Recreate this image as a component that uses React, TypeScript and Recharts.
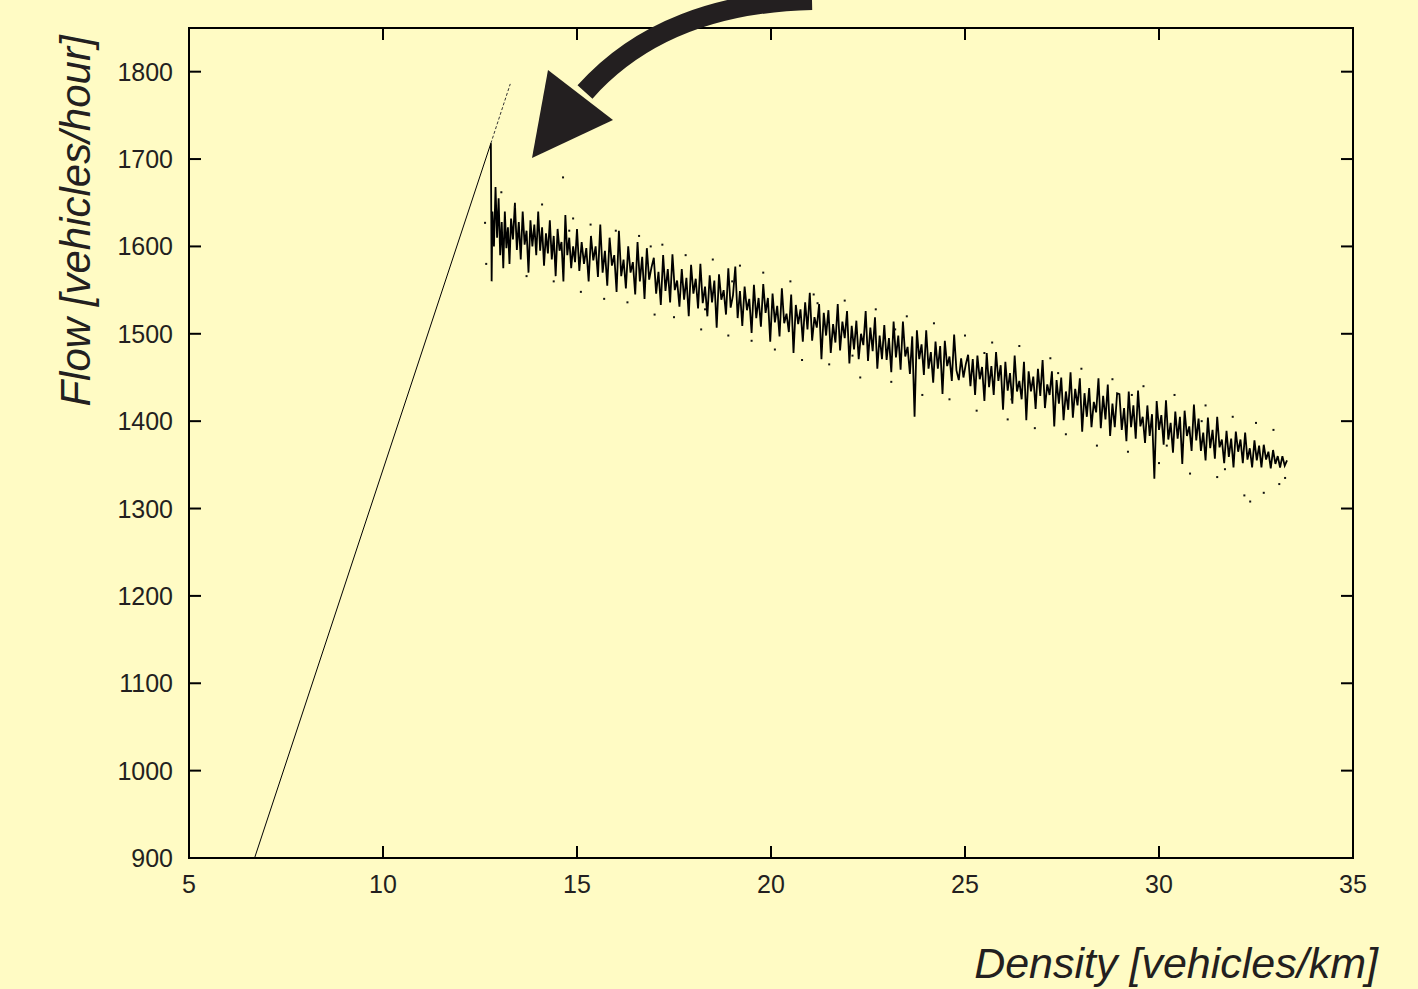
import { ComposedChart, Line, Scatter, XAxis, YAxis, ReferenceArea } from 'recharts'

// plot frame in page pixels (chart sits at 0,0)
const LEFT = 189
const RIGHT = 1353
const TOP = 28
const BOTTOM = 858
const INK = '#231f20'
const FONT = '"Liberation Sans", Arial, Helvetica, sans-serif'

const densityTicks = [5, 10, 15, 20, 25, 30, 35]
const flowTicks = [900, 1000, 1100, 1200, 1300, 1400, 1500, 1600, 1700, 1800]

// free-flow branch [density, flow]
const freeFlow: number[][] = [[6.69, 900], [12.78, 1718]]
const freeFlowTail: number[][] = [[12.78, 1718], [13.28, 1786]]

// congested branch [density, flow]
const congested: number[][] = [
  [12.78, 1718], [12.8, 1560], [12.82, 1640], [12.86, 1600], [12.9, 1668], [12.94, 1610], [12.98, 1655], [13.02, 1590],
  [13.06, 1628], [13.1, 1575], [13.14, 1640], [13.18, 1598], [13.22, 1622], [13.26, 1580], [13.3, 1632], [13.35, 1608],
  [13.4, 1650], [13.45, 1596], [13.5, 1628], [13.55, 1585], [13.6, 1640], [13.65, 1602], [13.7, 1618], [13.75, 1570],
  [13.8, 1630], [13.85, 1600], [13.9, 1625], [13.95, 1590], [14.0, 1640], [14.05, 1595], [14.1, 1622], [14.15, 1578],
  [14.2, 1615], [14.25, 1592], [14.3, 1630], [14.35, 1585], [14.4, 1612], [14.45, 1566], [14.5, 1620], [14.55, 1595],
  [14.6, 1605], [14.65, 1560], [14.7, 1636], [14.75, 1590], [14.8, 1610], [14.85, 1575], [14.9, 1600], [14.95, 1582],
  [15.0, 1620], [15.06, 1572], [15.12, 1605], [15.18, 1580], [15.24, 1598], [15.3, 1560], [15.36, 1612], [15.42, 1584],
  [15.48, 1600], [15.54, 1565], [15.6, 1625], [15.66, 1570], [15.72, 1595], [15.78, 1555], [15.84, 1610], [15.9, 1578],
  [15.96, 1590], [16.02, 1548], [16.08, 1618], [16.14, 1566], [16.2, 1585], [16.26, 1552], [16.32, 1600], [16.38, 1570],
  [16.44, 1582], [16.5, 1545], [16.56, 1605], [16.62, 1560], [16.68, 1588], [16.74, 1540], [16.8, 1598], [16.86, 1562],
  [16.92, 1576],
  [16.98, 1587], [17.04, 1546], [17.1, 1571], [17.16, 1533], [17.22, 1590], [17.28, 1549], [17.34, 1574], [17.4, 1536],
  [17.46, 1591], [17.52, 1550], [17.58, 1561], [17.64, 1531], [17.7, 1574], [17.76, 1539], [17.82, 1564], [17.88, 1520],
  [17.94, 1579], [18.0, 1546], [18.06, 1563], [18.12, 1529], [18.18, 1580], [18.24, 1535], [18.3, 1554], [18.36, 1520],
  [18.42, 1567], [18.48, 1536], [18.54, 1561], [18.6, 1507], [18.66, 1568], [18.72, 1539], [18.78, 1550], [18.84, 1522],
  [18.9, 1575], [18.96, 1530],
  [19.02, 1544], [19.08, 1577], [19.14, 1518], [19.2, 1549], [19.26, 1509], [19.32, 1554], [19.38, 1527], [19.44, 1540],
  [19.5, 1501], [19.56, 1556], [19.62, 1518], [19.68, 1541], [19.74, 1508], [19.8, 1557], [19.86, 1524], [19.92, 1541],
  [19.98, 1491], [20.04, 1546], [20.1, 1513], [20.16, 1532], [20.22, 1497], [20.28, 1552], [20.34, 1512], [20.4, 1523],
  [20.46, 1502], [20.52, 1545], [20.58, 1478], [20.64, 1533], [20.7, 1511], [20.76, 1528], [20.82, 1491], [20.88, 1536],
  [20.94, 1505],
  [21.0, 1547], [21.06, 1492], [21.12, 1519], [21.18, 1507], [21.24, 1534], [21.3, 1471], [21.36, 1524], [21.42, 1498],
  [21.48, 1527], [21.54, 1478], [21.6, 1511], [21.66, 1490], [21.72, 1534], [21.78, 1481], [21.84, 1514], [21.9, 1495],
  [21.96, 1526], [22.02, 1466], [22.08, 1509], [22.14, 1482], [22.2, 1515], [22.26, 1471], [22.32, 1500], [22.38, 1487],
  [22.44, 1526], [22.5, 1469], [22.56, 1507], [22.62, 1480], [22.68, 1519], [22.74, 1460], [22.8, 1498], [22.86, 1471],
  [22.92, 1510],
  [22.98, 1470], [23.04, 1495], [23.1, 1456], [23.16, 1514], [23.22, 1473], [23.28, 1498], [23.34, 1459], [23.4, 1514],
  [23.46, 1474], [23.52, 1485], [23.58, 1454], [23.64, 1497], [23.7, 1405], [23.76, 1504], [23.82, 1471], [23.88, 1488],
  [23.94, 1453], [24.0, 1504], [24.06, 1460], [24.12, 1479], [24.18, 1444], [24.24, 1491], [24.3, 1460], [24.36, 1486],
  [24.42, 1431], [24.48, 1492], [24.54, 1463], [24.6, 1474], [24.66, 1446], [24.72, 1499], [24.78, 1458], [24.84, 1447],
  [24.9, 1472], [24.96, 1450],
  [25.02, 1465], [25.08, 1476], [25.14, 1440], [25.2, 1471], [25.26, 1430], [25.32, 1475], [25.38, 1448], [25.44, 1462],
  [25.5, 1423], [25.56, 1478], [25.62, 1439], [25.68, 1463], [25.74, 1430], [25.8, 1479], [25.86, 1446], [25.92, 1464],
  [25.98, 1413], [26.04, 1468], [26.1, 1435], [26.16, 1455], [26.22, 1420], [26.28, 1475], [26.34, 1434], [26.4, 1446],
  [26.46, 1425], [26.52, 1468], [26.58, 1401], [26.64, 1457], [26.7, 1434], [26.76, 1451], [26.82, 1414], [26.88, 1460],
  [26.94, 1429],
  [27.0, 1470], [27.06, 1415], [27.12, 1442], [27.18, 1430], [27.24, 1457], [27.3, 1394], [27.36, 1447], [27.42, 1420],
  [27.48, 1450], [27.54, 1401], [27.6, 1434], [27.66, 1413], [27.72, 1456], [27.78, 1404], [27.84, 1437], [27.9, 1418],
  [27.96, 1449], [28.02, 1388], [28.08, 1432], [28.14, 1405], [28.2, 1438], [28.26, 1393], [28.32, 1422], [28.38, 1410],
  [28.44, 1449], [28.5, 1392], [28.56, 1429], [28.62, 1402], [28.68, 1442], [28.74, 1383], [28.8, 1420], [28.86, 1393],
  [28.92, 1432],
  [28.98, 1431], [29.04, 1390], [29.1, 1415], [29.16, 1377], [29.22, 1434], [29.28, 1393], [29.34, 1418], [29.4, 1380],
  [29.46, 1435], [29.52, 1394], [29.58, 1405], [29.64, 1375], [29.7, 1418], [29.76, 1383], [29.82, 1408], [29.88, 1334],
  [29.94, 1423], [30.0, 1390], [30.06, 1407], [30.12, 1373], [30.18, 1424], [30.24, 1379], [30.3, 1398], [30.36, 1364],
  [30.42, 1411], [30.48, 1380], [30.54, 1405], [30.6, 1351], [30.66, 1412], [30.72, 1383], [30.78, 1394], [30.84, 1366],
  [30.9, 1419], [30.96, 1378],
  [31.02, 1403], [31.08, 1366], [31.14, 1387], [31.2, 1355], [31.26, 1404], [31.32, 1369], [31.38, 1390], [31.44, 1357],
  [31.5, 1405], [31.56, 1370], [31.62, 1379], [31.68, 1352], [31.74, 1389], [31.8, 1359], [31.86, 1380], [31.92, 1347],
  [31.98, 1388], [32.04, 1365], [32.1, 1379], [32.16, 1352], [32.22, 1387], [32.28, 1356], [32.34, 1369], [32.4, 1347],
  [32.46, 1378], [32.52, 1355], [32.58, 1372], [32.64, 1347], [32.7, 1373], [32.76, 1356], [32.82, 1365], [32.88, 1346],
  [32.94, 1367], [33.0, 1351], [33.06, 1360], [33.12, 1347], [33.18, 1360], [33.24, 1349], [33.3, 1355],
]

// stray single measurements around the congested band
const strayPoints: number[][] = [
  [12.63, 1627], [12.66, 1580], [13.05, 1662], [13.4, 1645], [13.7, 1566], [14.1, 1648], [14.4, 1560], [14.64, 1679],
  [14.8, 1618], [14.9, 1632], [15.1, 1548], [15.35, 1625], [15.7, 1540], [16.0, 1618], [16.3, 1536], [16.6, 1612],
  [16.9, 1600], [17.0, 1522], [17.2, 1602], [17.5, 1519], [17.8, 1590], [18.2, 1505], [18.3, 1528], [18.5, 1585],
  [18.9, 1498], [19.0, 1560], [19.2, 1578], [19.5, 1492], [19.8, 1570], [20.1, 1482], [20.5, 1560], [20.8, 1470],
  [21.1, 1545], [21.2, 1535], [21.5, 1465], [21.9, 1538], [22.1, 1475], [22.3, 1450], [22.7, 1528], [23.1, 1445],
  [23.2, 1505], [23.5, 1520], [23.9, 1430], [24.2, 1512], [24.6, 1425], [25.0, 1498], [25.3, 1412], [25.5, 1478],
  [25.7, 1490], [26.1, 1402], [26.2, 1425], [26.4, 1486], [26.8, 1392], [27.2, 1472], [27.4, 1455], [27.6, 1385],
  [28.0, 1460], [28.4, 1372], [28.8, 1448], [29.2, 1365], [29.3, 1430], [29.6, 1440], [30.0, 1352], [30.2, 1372],
  [30.4, 1430], [30.8, 1340], [31.1, 1400], [31.2, 1418], [31.5, 1336], [31.7, 1345], [31.9, 1405], [32.2, 1315],
  [32.35, 1308], [32.5, 1398], [32.7, 1318], [32.95, 1390], [33.1, 1328], [33.25, 1335],
]

const toPoints = (rows: number[][]) => rows.map(([d, q]) => ({ d, q }))

const XTick = (props: any) => {
  const { x, payload } = props
  return (
    <g>
      <line x1={x} x2={x} y1={BOTTOM} y2={BOTTOM - 12} stroke="#000" strokeWidth={2} />
      <line x1={x} x2={x} y1={TOP} y2={TOP + 12} stroke="#000" strokeWidth={2} />
      <text x={x} y={893} textAnchor="middle" fontSize={25} fontFamily={FONT} fill={INK}>
        {payload.value}
      </text>
    </g>
  )
}

const YTick = (props: any) => {
  const { y, payload } = props
  return (
    <g>
      <line x1={LEFT} x2={LEFT + 12} y1={y} y2={y} stroke="#000" strokeWidth={2} />
      <line x1={RIGHT - 12} x2={RIGHT} y1={y} y2={y} stroke="#000" strokeWidth={2} />
      <text x={173} y={y} dy="0.36em" textAnchor="end" fontSize={25} fontFamily={FONT} fill={INK}>
        {payload.value}
      </text>
    </g>
  )
}

const Dot = (props: any) => <rect x={props.cx - 1} y={props.cy - 1} width={2} height={2} fill="#111" />

export default function App() {
  return (
    <div
      style={{
        position: 'absolute',
        left: 0,
        top: 0,
        width: 1418,
        height: 989,
        background: '#FFFBC4',
        overflow: 'hidden',
      }}
    >
      <ComposedChart width={1418} height={989} margin={{ top: TOP, right: 1418 - RIGHT, bottom: 81, left: LEFT - 80 }}>
        <XAxis
          type="number"
          dataKey="d"
          domain={[5, 35]}
          ticks={densityTicks}
          interval={0}
          allowDataOverflow
          height={50}
          axisLine={false}
          tickLine={false}
          tick={XTick}
        />
        <YAxis
          type="number"
          dataKey="q"
          domain={[900, 1850]}
          ticks={flowTicks}
          interval={0}
          allowDataOverflow
          width={80}
          axisLine={false}
          tickLine={false}
          tick={YTick}
        />
        <ReferenceArea x1={5} x2={35} y1={900} y2={1850} fill="none" fillOpacity={0} stroke="#000" strokeWidth={2} />
        <Line data={toPoints(freeFlow)} dataKey="q" type="linear" stroke="#000" strokeWidth={1} dot={false} isAnimationActive={false} />
        <Line
          data={toPoints(freeFlowTail)}
          dataKey="q"
          type="linear"
          stroke="#333"
          strokeWidth={1}
          strokeDasharray="3 2"
          dot={false}
          isAnimationActive={false}
        />
        <Line data={toPoints(congested)} dataKey="q" type="linear" stroke="#000" strokeWidth={1.8} dot={false} isAnimationActive={false} />
        <Scatter data={toPoints(strayPoints)} dataKey="q" shape={Dot} isAnimationActive={false} />
      </ComposedChart>

      <svg width={1418} height={989} style={{ position: 'absolute', left: 0, top: 0, pointerEvents: 'none' }}>
        <path d="M 812 0 C 720 2, 640 30, 585 92" fill="none" stroke={INK} strokeWidth={20} />
        <polygon points="548,70 613,120 532,158" fill={INK} />
        <text
          x={75}
          y={221}
          transform="rotate(-90 75 221)"
          textAnchor="middle"
          dominantBaseline="central"
          fontSize={42}
          fontStyle="italic"
          fontFamily={FONT}
          fill={INK}
        >
          Flow [vehicles/hour]
        </text>
        <text x={1378} y={978} textAnchor="end" fontSize={43} fontStyle="italic" fontFamily={FONT} fill={INK}>
          Density [vehicles/km]
        </text>
      </svg>
    </div>
  )
}
